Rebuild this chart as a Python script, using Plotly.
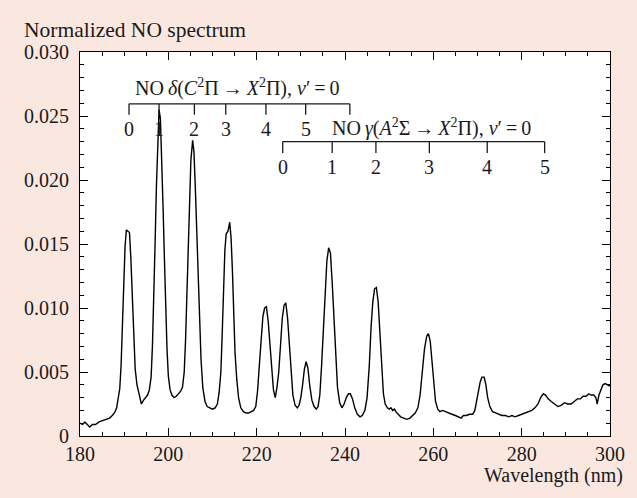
import plotly.graph_objects as go

# Normalized NO emission spectrum (wavelength in nm, normalized intensity)
wavelength_nm = [
    180.0, 180.6, 181.1, 181.6, 182.2, 182.8, 183.5, 184.3, 185.2, 186.0, 186.7, 187.3,
    187.8, 188.3, 188.7, 189.0, 189.3, 189.6, 189.9, 190.2, 190.5, 190.9, 191.2, 191.5,
    191.8, 192.1, 192.5, 192.9, 193.3, 193.9, 194.4, 194.8, 195.3, 195.7, 196.1, 196.4,
    196.7, 197.0, 197.3, 197.6, 197.9, 198.2, 198.5, 198.8, 199.1, 199.4, 199.7, 200.0,
    200.4, 200.8, 201.3, 201.8, 202.3, 202.8, 203.2, 203.6, 203.9, 204.2, 204.5, 204.8,
    205.1, 205.5, 205.8, 206.1, 206.4, 206.7, 207.0, 207.4, 207.8, 208.3, 208.8, 209.4,
    210.0, 210.6, 211.1, 211.5, 211.9, 212.2, 212.5, 212.8, 213.1, 213.5, 213.9, 214.2,
    214.5, 214.8, 215.1, 215.5, 215.9, 216.4, 217.0, 217.6, 218.2, 218.8, 219.3, 219.8,
    220.2, 220.6, 221.0, 221.4, 221.8, 222.2, 222.6, 223.0, 223.4, 223.8, 224.2, 224.6,
    225.0, 225.4, 225.8, 226.2, 226.6, 227.0, 227.4, 227.8, 228.2, 228.7, 229.2, 229.6,
    230.0, 230.4, 230.8, 231.2, 231.6, 232.0, 232.5, 233.0, 233.5, 233.9, 234.3, 234.7,
    235.1, 235.5, 235.9, 236.3, 236.7, 237.1, 237.5, 237.9, 238.3, 238.8, 239.3, 239.8,
    240.3, 240.8, 241.2, 241.7, 242.2, 242.8, 243.4, 243.9, 244.5, 245.0, 245.5, 245.9,
    246.3, 246.7, 247.1, 247.5, 247.9, 248.3, 248.7, 249.1, 249.6, 250.0, 250.4, 250.8,
    251.2, 251.5, 252.0, 252.6, 253.3, 254.0, 254.7, 255.3, 255.9, 256.5, 257.0, 257.5,
    258.0, 258.5, 258.9, 259.3, 259.7, 260.1, 260.5, 261.0, 261.5, 262.1, 262.7, 263.4,
    264.2, 265.0, 265.7, 266.3, 266.8, 267.5, 268.2, 268.9, 269.4, 269.8, 270.2, 270.6,
    271.0, 271.5, 271.9, 272.3, 272.8, 273.4, 274.1, 274.8, 275.5, 276.3, 277.1, 277.8,
    278.5, 279.3, 280.0, 280.8, 281.5, 282.3, 283.0, 283.7, 284.3, 284.9, 285.4, 286.0,
    286.7, 287.4, 288.2, 288.9, 289.7, 290.4, 291.2, 291.9, 292.6, 293.3, 293.9, 294.6,
    295.2, 295.7, 296.3, 296.8, 297.1, 297.5, 297.9, 298.4, 298.9, 299.5, 300.0,
]
intensity = [
    0.0010, 0.0009, 0.0011, 0.0009, 0.0007, 0.0009, 0.0009, 0.0011, 0.0012, 0.0013, 0.0014, 0.0016,
    0.0018, 0.0022, 0.0029, 0.0037, 0.0055, 0.0085, 0.0120, 0.0148, 0.0161, 0.0160, 0.0159, 0.0140,
    0.0110, 0.0078, 0.0052, 0.0040, 0.0033, 0.0025, 0.0028, 0.0030, 0.0032, 0.0036, 0.0046, 0.0070,
    0.0105, 0.0150, 0.0195, 0.0232, 0.0255, 0.0248, 0.0220, 0.0180, 0.0140, 0.0100, 0.0068, 0.0047,
    0.0036, 0.0032, 0.0030, 0.0031, 0.0033, 0.0035, 0.0038, 0.0050, 0.0075, 0.0110, 0.0150, 0.0188,
    0.0215, 0.0231, 0.0222, 0.0195, 0.0160, 0.0125, 0.0090, 0.0060, 0.0038, 0.0027, 0.0023, 0.0022,
    0.0021, 0.0022, 0.0025, 0.0034, 0.0050, 0.0080, 0.0115, 0.0145, 0.0158, 0.0160, 0.0167, 0.0155,
    0.0130, 0.0095, 0.0065, 0.0044, 0.0030, 0.0022, 0.0019, 0.0018, 0.0018, 0.0019, 0.0020, 0.0023,
    0.0035, 0.0055, 0.0078, 0.0093, 0.0100, 0.0101, 0.0090, 0.0070, 0.0050, 0.0036, 0.0030, 0.0038,
    0.0050, 0.0072, 0.0092, 0.0102, 0.0104, 0.0092, 0.0070, 0.0048, 0.0032, 0.0024, 0.0022, 0.0024,
    0.0030, 0.0040, 0.0052, 0.0058, 0.0053, 0.0040, 0.0028, 0.0023, 0.0021, 0.0023, 0.0032, 0.0055,
    0.0085, 0.0115, 0.0137, 0.0147, 0.0143, 0.0120, 0.0090, 0.0060, 0.0038, 0.0026, 0.0022, 0.0025,
    0.0030, 0.0033, 0.0033, 0.0029, 0.0022, 0.0017, 0.0015, 0.0016, 0.0020, 0.0030, 0.0055, 0.0085,
    0.0105, 0.0115, 0.0116, 0.0105, 0.0080, 0.0052, 0.0033, 0.0025, 0.0022, 0.0021, 0.0022, 0.0020,
    0.0021, 0.0019, 0.0017, 0.0015, 0.0014, 0.0013, 0.0014, 0.0016, 0.0018, 0.0022, 0.0032, 0.0050,
    0.0068, 0.0078, 0.0080, 0.0074, 0.0058, 0.0040, 0.0027, 0.0021, 0.0019, 0.0020, 0.0019, 0.0018,
    0.0017, 0.0016, 0.0015, 0.0014, 0.0016, 0.0016, 0.0017, 0.0017, 0.0020, 0.0028, 0.0036, 0.0042,
    0.0046, 0.0046, 0.0040, 0.0030, 0.0023, 0.0019, 0.0018, 0.0017, 0.0016, 0.0016, 0.0015, 0.0016,
    0.0015, 0.0016, 0.0017, 0.0018, 0.0019, 0.0020, 0.0022, 0.0025, 0.0030, 0.0033, 0.0032, 0.0029,
    0.0027, 0.0025, 0.0023, 0.0024, 0.0026, 0.0025, 0.0025, 0.0027, 0.0029, 0.0029, 0.0031, 0.0031,
    0.0033, 0.0032, 0.0032, 0.0030, 0.0025, 0.0032, 0.0036, 0.0040, 0.0041, 0.0040, 0.0039,
]

# Band positions of the two vibrational progressions (nm)
delta_bands_nm = [191.1, 197.9, 205.9, 213.0, 222.1, 231.1]
delta_bracket_end_nm = 241.1
delta_labels = ["0", "1", "2", "3", "4", "5"]
gamma_bands_nm = [225.9, 237.1, 247.0, 259.1, 272.2, 285.2]
gamma_labels = ["0", "1", "2", "3", "4", "5"]

# Axis ticks
x_tickvals = [180, 200, 220, 240, 260, 280, 300]
y_tickvals = [0, 0.005, 0.010, 0.015, 0.020, 0.025, 0.030]
y_ticktext = ["0", "0.005", "0.010", "0.015", "0.020", "0.025", "0.030"]

FONT = "Liberation Serif"
INK = "#1a1a1a"
BG = "#fae8e0"


def bracket(xs, x_end, y_line, y_tick):
    """Comb-shaped bracket: a horizontal bar with a short drop at each band."""
    bx, by = [xs[0], x_end], [y_line, y_line]
    stops = list(xs) + ([x_end] if x_end not in xs else [])
    for x in stops:
        bx += [None, x, x]
        by += [None, y_line, y_tick]
    return bx, by


fig = go.Figure()

fig.add_trace(go.Scatter(
    x=wavelength_nm, y=intensity, mode="lines",
    line=dict(color="black", width=1.4), hoverinfo="skip", showlegend=False,
))

# delta progression bracket
dx, dy = bracket(delta_bands_nm, delta_bracket_end_nm, 0.02595, 0.0251)
fig.add_trace(go.Scatter(x=dx, y=dy, mode="lines", line=dict(color=INK, width=1.3),
                         hoverinfo="skip", showlegend=False))
# gamma progression bracket
gx, gy = bracket(gamma_bands_nm, gamma_bands_nm[-1], 0.0230, 0.0221)
fig.add_trace(go.Scatter(x=gx, y=gy, mode="lines", line=dict(color=INK, width=1.3),
                         hoverinfo="skip", showlegend=False))

# vibrational quantum numbers under each bracket tick
for xb, lab in zip(delta_bands_nm, delta_labels):
    fig.add_annotation(x=xb, y=0.0240, xref="x", yref="y", text=lab, showarrow=False,
                       font=dict(family=FONT, size=20, color=INK))
for xb, lab in zip(gamma_bands_nm, gamma_labels):
    fig.add_annotation(x=xb, y=0.0210, xref="x", yref="y", text=lab, showarrow=False,
                       font=dict(family=FONT, size=20, color=INK))

thin = "\u2009"
fig.add_annotation(
    x=215.6, y=0.0272, xref="x", yref="y", showarrow=False,
    text=f"NO{thin}<i>δ</i>(<i>C</i><sup>2</sup>Π{thin}→{thin}<i>X</i><sup>2</sup>Π), <i>v</i>′{thin}={thin}0",
    font=dict(family=FONT, size=20, color=INK),
)
fig.add_annotation(
    x=259.6, y=0.0241, xref="x", yref="y", showarrow=False,
    text=f"NO{thin}<i>γ</i>(<i>A</i><sup>2</sup>Σ{thin}→{thin}<i>X</i><sup>2</sup>Π), <i>v</i>′{thin}={thin}0",
    font=dict(family=FONT, size=20, color=INK),
)

fig.add_annotation(
    x=-0.109, y=1.057, xref="paper", yref="paper", xanchor="left", yanchor="middle",
    showarrow=False, text="Normalized NO spectrum",
    font=dict(family=FONT, size=21.5, color=INK),
)
fig.add_annotation(
    x=1.028, y=-0.104, xref="paper", yref="paper", xanchor="right", yanchor="middle",
    showarrow=False, text="Wavelength (nm)",
    font=dict(family=FONT, size=20, color=INK),
)

axis_common = dict(
    showgrid=False, zeroline=False, showline=True, linecolor="black", linewidth=1,
    mirror="ticks", ticks="inside", tickcolor="black", tickwidth=1, ticklen=8,
    tickfont=dict(family=FONT, size=20, color=INK),
)
fig.update_xaxes(
    range=[180, 300], tickvals=x_tickvals, ticklabelstandoff=0, **axis_common,
    minor=dict(dtick=5, tick0=180, ticks="inside", ticklen=4, tickcolor="black", showgrid=False),
)
fig.update_yaxes(
    range=[0, 0.030], tickvals=y_tickvals, ticktext=y_ticktext, ticklabelstandoff=6,
    **axis_common,
    minor=dict(dtick=0.001, tick0=0, ticks="inside", ticklen=4, tickcolor="black", showgrid=False),
)

fig.update_layout(
    width=637, height=498,
    margin=dict(l=80, r=17, t=52, b=62),
    paper_bgcolor=BG, plot_bgcolor="white",
    showlegend=False,
)

fig.write_html("out.html")
